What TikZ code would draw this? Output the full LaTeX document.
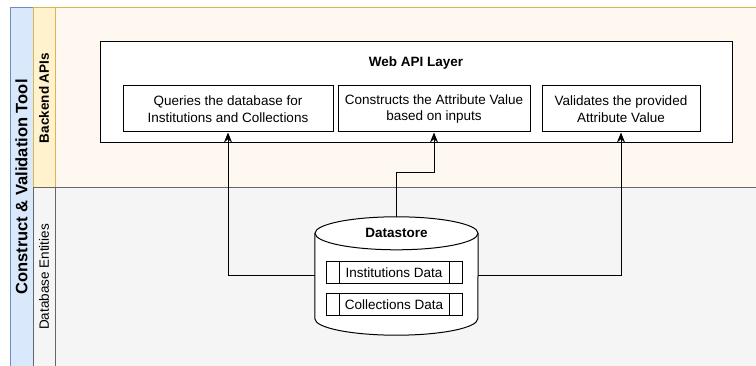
\documentclass[tikz,border=0pt]{standalone}
\usepackage{fontspec}
\setmainfont{Liberation Sans}
\usepackage{tikz}
\usetikzlibrary{arrows.meta,calc}
\definecolor{poolfill}{HTML}{DAE8FC}
\definecolor{pooldraw}{HTML}{6C8EBF}
\definecolor{apifill}{HTML}{FFF2CC}
\definecolor{apidraw}{HTML}{D6B656}
\definecolor{apibody}{HTML}{FFF8F1}
\definecolor{dbfill}{HTML}{F5F5F5}
\definecolor{dbdraw}{HTML}{666666}

\begin{document}
\begin{tikzpicture}[x=1pt,y=-1pt,
    box/.style={draw=black,line width=1pt,fill=white,inner sep=0pt},
    sub/.style={box,minimum height=46pt,
        align=center,font=\fontsize{13.5}{16.5}\selectfont},
    entity/.style={box,minimum width=136pt,minimum height=22pt,
        font=\fontsize{13.5}{16}\selectfont},
    lanetitle/.style={rotate=90,font=\fontsize{13.5}{16}\selectfont},
    link/.style={draw=black,line width=1pt,-{Stealth[length=10pt,width=8pt]}}]
    \useasboundingbox (0,0) rectangle (756,366);
    \clip (0,0) rectangle (756,366);

    % pool and lanes
    \draw[fill=poolfill,draw=pooldraw,line width=1pt] (10,8) rectangle (33,368);
    \draw[fill=apifill,draw=apidraw,line width=1pt] (33,8) rectangle (55,188);
    \draw[fill=apibody,draw=apidraw,line width=1pt] (55,8) rectangle (760,188);
    \draw[fill=dbfill,draw=dbdraw,line width=1pt] (33,188) rectangle (55,368);
    \draw[fill=dbfill,draw=dbdraw,line width=1pt] (55,188) rectangle (760,368);
    \node[rotate=90,font=\bfseries\fontsize{16.5}{19}\selectfont] (pool) at (21.5,187) {Construct \& Validation Tool};
    \node[lanetitle,font=\bfseries\fontsize{13.5}{16}\selectfont] (apis) at (44,98) {Backend APIs};
    \node[lanetitle] (dbents) at (44,277) {Database Entities};

    % web api layer
    \node[box,minimum width=632pt,minimum height=101pt] (api) at (416,92.5) {};
    \node[font=\bfseries\fontsize{13.5}{16}\selectfont] (apitxt) at (416,63) {Web API Layer};
    \node[sub,minimum width=210pt] (qry) at (228,109) {Queries the database for\\Institutions and Collections};
    \node[sub,minimum width=192pt] (cons) at (434,109) {Constructs the Attribute Value\\based on inputs};
    \node[sub,minimum width=158pt] (val) at (621,109) {Validates the provided\\Attribute Value};

    % datastore
    \node[minimum width=163pt,minimum height=118pt,inner sep=0pt] (ds) at (396.5,276) {};
    \draw[line width=1pt,fill=white] (ds.north west) ++(0,16.5) -- ($(ds.south west)+(0,-16.5)$)
        arc[start angle=180,end angle=0,x radius=81.5,y radius=16.5] -- ($(ds.north east)+(0,16.5)$);
    \draw[line width=1pt,fill=white] ($(ds.north)+(0,16.5)$) ellipse[x radius=81.5,y radius=16.5];
    \node[font=\bfseries\fontsize{13.5}{16}\selectfont] (dstxt) at (396.5,233) {Datastore};
    \node[entity] (inst) at (394,273) {Institutions Data};
    \node[entity] (coll) at (394,304.5) {Collections Data};
    \foreach \e in {inst,coll} {
        \draw[line width=1pt] ($(\e.north west)+(14,0)$) -- ($(\e.south west)+(14,0)$);
        \draw[line width=1pt] ($(\e.north east)+(-13,0)$) -- ($(\e.south east)+(-13,0)$);
    }

    % connectors
    \draw[link] (ds.west) -| (qry.south);
    \draw[link] (ds.east) -| (val.south);
    \draw[link] (ds.north) -- ++(0,-44) -| (cons.south);
\end{tikzpicture}
\end{document}
